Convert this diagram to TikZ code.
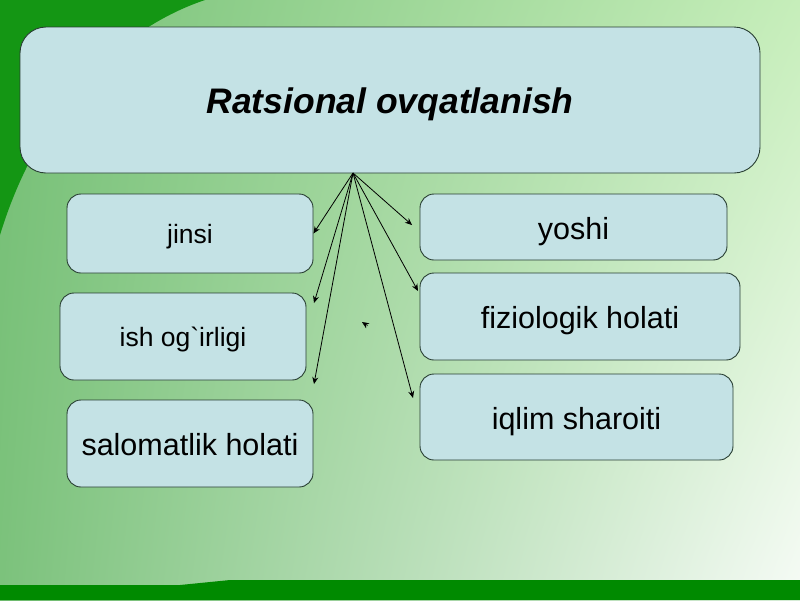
\documentclass[tikz,border=0pt]{standalone}
\usepackage{fontspec}
\setmainfont{Liberation Sans}[Ligatures=TeXOff]
\usetikzlibrary{arrows.meta,shadings}
\definecolor{bgUL}{RGB}{118,192,118}
\definecolor{bgUR}{RGB}{198,238,186}
\definecolor{bgLL}{RGB}{124,194,124}
\definecolor{bgLR}{RGB}{246,251,246}
\definecolor{swoosh}{RGB}{20,150,20}
\definecolor{barG}{RGB}{0,138,0}
\definecolor{boxfill}{RGB}{196,226,229}
\definecolor{boxline}{RGB}{40,62,50}
\tikzset{
  box/.style={draw=boxline, line width=0.9pt, fill=boxfill, rounded corners=14pt, inner sep=0pt, align=center},
  bigbox/.style={box, rounded corners=26pt},
  smalltxt/.style={font=\fontsize{26.5}{30}\selectfont, text height=26pt, text depth=6pt},
  midtxt/.style={font=\fontsize{30.5}{36}\selectfont, text height=30pt, text depth=6pt},
  conn/.style={draw=black, line width=0.8pt, -{Stealth[length=7pt,width=6pt]}}
}
\begin{document}
\begin{tikzpicture}[x=1pt,y=-1pt]
\useasboundingbox (0,0) rectangle (800,600);
% background
\shade[upper left=bgUL, upper right=bgUR, lower left=bgLL, lower right=bgLR] (0,0) rectangle (800,600);
\fill[swoosh] (0,0) -- (205,0) .. controls (110,32) and (35,120) .. (0,235) -- cycle;
\fill[barG] (0,585) -- (180,585) -- (230,580) -- (800,580) -- (800,600) -- (0,600) -- cycle;
% main box
\node[bigbox, minimum width=740pt, minimum height=146pt, font=\fontsize{35.5}{40}\selectfont\bfseries\itshape, text height=30pt, text depth=4pt] (main) at (390,100) {Ratsional ovqatlanish};
% sub boxes
\node[box, smalltxt, minimum width=246pt, minimum height=79pt] (jinsi) at (190,233.5) {jinsi};
\node[box, smalltxt, minimum width=246pt, minimum height=87pt] (ish) at (183,336.5) {ish og`irligi};
\node[box, midtxt, minimum width=246pt, minimum height=87pt] (salom) at (190,443.5) {salomatlik holati};
\node[box, midtxt, minimum width=307pt, minimum height=66pt] (yoshi) at (573.5,227) {yoshi};
\node[box, midtxt, minimum width=320pt, minimum height=87pt] (fizio) at (580,316.5) {fiziologik holati};
\node[box, midtxt, minimum width=313pt, minimum height=86pt] (iqlim) at (576.5,417) {iqlim sharoiti};
% connectors
\coordinate (apex) at (353,173);
\coordinate (e2) at (314,303);
\coordinate (e3) at (314,384);
\coordinate (e4) at (412,225);
\coordinate (e5) at (418,291);
\coordinate (e6) at (413,398);
\coordinate (s1) at (368,326);
\coordinate (s2) at (362,322);
\draw[conn] (apex) -- (jinsi.east);
\draw[conn] (apex) -- (e2);
\draw[conn] (apex) -- (e3);
\draw[conn] (apex) -- (e4);
\draw[conn] (apex) -- (e5);
\draw[conn] (apex) -- (e6);
\draw[conn, line width=0.3pt] (s1) -- (s2);
\end{tikzpicture}
\end{document}
